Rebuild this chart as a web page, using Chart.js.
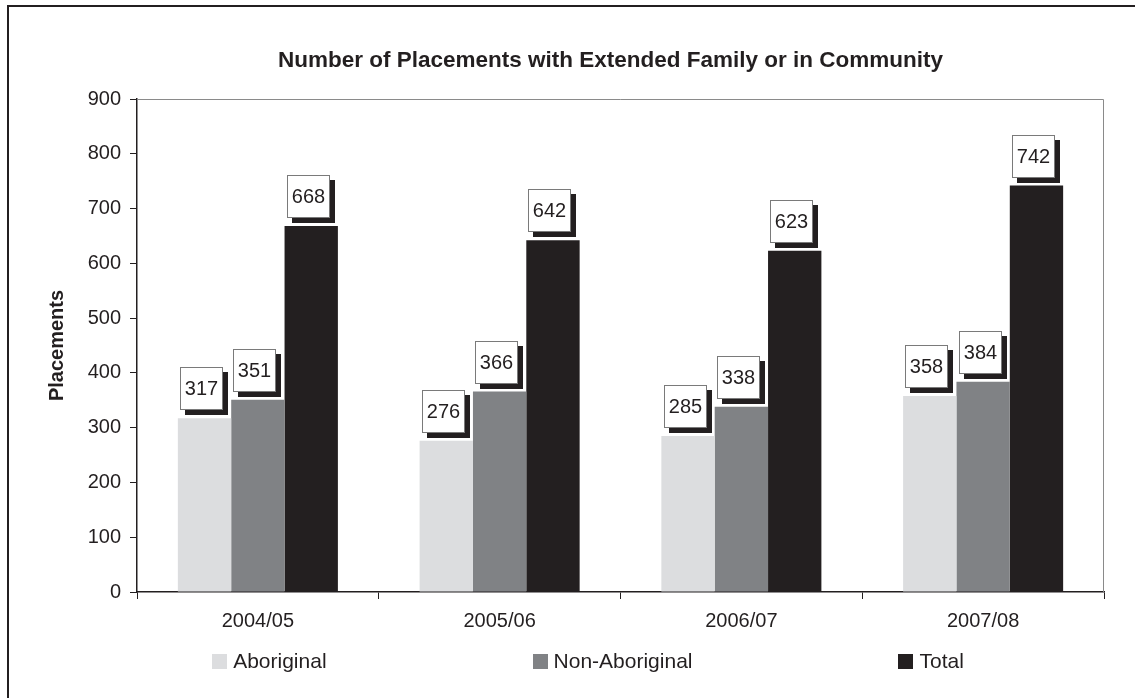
<!DOCTYPE html>
<html>
<head>
<meta charset="utf-8">
<script src="https://cdn.jsdelivr.net/npm/chart.js@4"></script>
<style>
  html, body { margin: 0; padding: 0; background: #fff; }
  canvas { display: block; }
</style>
</head>
<body>
<canvas id="canvas" width="1135" height="698"></canvas>
<script>
const canvas = document.getElementById("canvas");

const years = ["2004/05", "2005/06", "2006/07", "2007/08"];
const aboriginal = [317, 276, 285, 358];
const nonAboriginal = [351, 366, 338, 384];
const total = [668, 642, 623, 742];
const yTicks = [0, 100, 200, 300, 400, 500, 600, 700, 800, 900];

const ink = "#231f20";
const font = "'Liberation Sans', Arial, sans-serif";

// outer crop lines, plot frame (top/right) and the little boxed value labels
const decorations = {
  id: "decorations",
  beforeDraw(chart) {
    const ctx = chart.ctx;
    ctx.save();
    ctx.fillStyle = "#fff";
    ctx.fillRect(0, 0, chart.width, chart.height);
    ctx.strokeStyle = ink;
    ctx.lineWidth = 2;
    ctx.beginPath();
    ctx.moveTo(8, chart.height);
    ctx.lineTo(8, 6);
    ctx.lineTo(chart.width, 6);
    ctx.stroke();
    ctx.restore();
  },
  beforeDatasetsDraw(chart) {
    const ctx = chart.ctx;
    const a = chart.chartArea;
    ctx.save();
    ctx.strokeStyle = "#8a8a8a";
    ctx.lineWidth = 1;
    ctx.beginPath();
    ctx.moveTo(a.left, a.top + 0.5);
    ctx.lineTo(a.right - 0.5, a.top + 0.5);
    ctx.lineTo(a.right - 0.5, a.bottom);
    ctx.stroke();
    ctx.restore();
  },
  afterDatasetsDraw(chart) {
    const ctx = chart.ctx;
    ctx.save();
    ctx.font = "20px " + font;
    ctx.textAlign = "center";
    ctx.textBaseline = "middle";
    chart.data.datasets.forEach((ds, i) => {
      chart.getDatasetMeta(i).data.forEach((bar, j) => {
        const w = 43, h = 43;
        const left = Math.round(bar.x - 3 - w / 2);
        const top = Math.round(bar.y - 8 - h);
        ctx.fillStyle = ink;
        ctx.fillRect(left + 5, top + 5, w, h);
        ctx.fillStyle = "#fff";
        ctx.fillRect(left, top, w, h);
        ctx.strokeStyle = "#7a7a7a";
        ctx.lineWidth = 1;
        ctx.strokeRect(left + 0.5, top + 0.5, w - 1, h - 1);
        ctx.fillStyle = ink;
        ctx.fillText(String(ds.data[j]), left + w / 2, top + h / 2 + 1);
      });
    });
    ctx.restore();
  },
  afterDraw(chart) {
    // legend row, spread out like the original
    const ctx = chart.ctx;
    const box = 15, gapText = 6, gapItem = 206, centerX = 588, cy = 661;
    ctx.save();
    ctx.font = "21px " + font;
    ctx.textBaseline = "middle";
    const items = chart.data.datasets.map(ds => ({
      text: ds.label,
      color: ds.backgroundColor,
      w: box + gapText + ctx.measureText(ds.label).width
    }));
    const full = items.reduce((s, it) => s + it.w, 0) + gapItem * (items.length - 1);
    let x = centerX - full / 2;
    items.forEach(it => {
      ctx.fillStyle = it.color;
      ctx.fillRect(Math.round(x), cy - 7, box, box);
      ctx.fillStyle = ink;
      ctx.fillText(it.text, x + box + gapText, cy + 1);
      x += it.w + gapItem;
    });
    ctx.restore();
  }
};

new Chart(canvas, {
  type: "bar",
  data: {
    labels: years,
    datasets: [
      { label: "Aboriginal", data: aboriginal, backgroundColor: "#dcdddf" },
      { label: "Non-Aboriginal", data: nonAboriginal, backgroundColor: "#808285" },
      { label: "Total", data: total, backgroundColor: ink }
    ]
  },
  options: {
    responsive: false,
    animation: false,
    devicePixelRatio: 1,
    layout: { padding: { left: 86, right: 0, top: 0, bottom: 56 } },
    datasets: {
      bar: { categoryPercentage: 0.662, barPercentage: 1.0, borderWidth: 0 }
    },
    plugins: {
      legend: { display: false },
      tooltip: { enabled: false },
      title: {
        display: true,
        text: "Number of Placements with Extended Family or in Community",
        color: ink,
        font: { family: font, size: 22.5, weight: "bold" },
        padding: { top: 47, bottom: 25 }
      }
    },
    scales: {
      x: {
        grid: { drawOnChartArea: false, drawTicks: true, tickLength: 7, color: ink, offset: true },
        border: { color: ink, width: 1.5 },
        ticks: { color: ink, padding: 10, font: { family: font, size: 20 }, maxRotation: 0 },
        afterFit(scale) { scale.height = 50; }
      },
      y: {
        min: 0,
        max: 900,
        afterBuildTicks(scale) { scale.ticks = yTicks.map(v => ({ value: v })); },
        grid: { drawOnChartArea: false, drawTicks: true, tickLength: 7, color: ink },
        border: { color: ink, width: 1.5 },
        ticks: { color: ink, padding: 9, font: { family: font, size: 20 } },
        title: {
          display: true,
          text: "Placements",
          color: ink,
          font: { family: font, size: 20, weight: "bold" },
          padding: { top: -41, bottom: 0 }
        },
        afterFit(scale) { scale.width = 51; }
      },
      // empty right-hand spacer so the plot ends where the original does
      spacer: {
        type: "linear",
        position: "right",
        display: true,
        ticks: { display: false },
        grid: { display: false },
        border: { display: false },
        afterFit(scale) { scale.width = 31; }
      }
    }
  },
  plugins: [decorations]
});
</script>
</body>
</html>
